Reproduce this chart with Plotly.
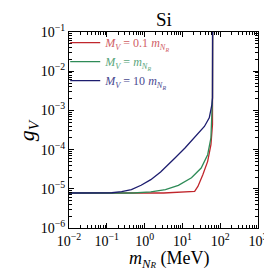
import plotly.graph_objects as go

# Data (m_NR in MeV, g_V)
m_red = [0.01, 3.16, 21.1, 25.7, 34.7, 46.6, 56.9, 62.5, 63.1]
g_red = [7.82e-6, 7.82e-6, 8.63e-6, 1.15e-5, 2.29e-5, 5.01e-5, 1.33e-4, 4.37e-4, 0.3]

m_green = [0.01, 0.5, 1.46, 3.56, 7.83, 17.4, 31.4, 46.6, 56.9, 60.3, 62.5, 63.1]
g_green = [7.82e-6, 7.82e-6, 8.32e-6, 9.55e-6, 1.23e-5, 1.91e-5, 3.39e-5, 7.41e-5, 2.0e-4,
           6.46e-4, 2.09e-3, 0.3]

m_blue = [0.01, 0.1, 0.136, 0.247, 0.447, 0.807, 1.46, 2.65, 4.79, 6.46, 11.7, 21.1, 38.2,
          51.4, 56.9, 60.3, 62.5, 63.1]
g_blue = [7.82e-6, 7.85e-6, 7.94e-6, 8.43e-6, 9.48e-6, 1.23e-5, 1.71e-5, 2.69e-5, 4.57e-5,
          6.17e-5, 1.10e-4, 2.0e-4, 3.89e-4, 6.46e-4, 9.55e-4, 1.41e-3, 2.09e-3, 0.3]

x_tickvals = [1e-2, 1e-1, 1, 10, 100, 1000]
x_ticktext = ["10<sup>−2</sup>", "10<sup>−1</sup>", "10<sup>0</sup>", "10<sup>1</sup>", "10<sup>2</sup>", "10<sup>3</sup>"]
y_tickvals = [1e-6, 1e-5, 1e-4, 1e-3, 1e-2, 1e-1]
y_ticktext = ["10<sup>−6</sup>", "10<sup>−5</sup>", "10<sup>−4</sup>", "10<sup>−3</sup>", "10<sup>−2</sup>", "10<sup>−1</sup>"]

c_red = "#c0262c"
c_green = "#2e8b57"
c_blue = "#1c1c6e"

def lab(col, mid):
    return (f'<span style="color:{col}"><i>M</i><sub><i>V</i></sub> = {mid}'
            f'<i>m</i><sub><i>N</i><sub><i>R</i></sub></sub></span>')

fig = go.Figure()
fig.add_trace(go.Scatter(x=m_red, y=g_red, mode="lines", line=dict(color=c_red, width=1.3),
                         name=lab("#d06065", "0.1 ")))
fig.add_trace(go.Scatter(x=m_green, y=g_green, mode="lines", line=dict(color=c_green, width=1.3),
                         name=lab("#5aa67c", "")))
fig.add_trace(go.Scatter(x=m_blue, y=g_blue, mode="lines", line=dict(color=c_blue, width=1.3),
                         name=lab("#4a4a90", "10 ")))

axis_common = dict(type="log", showgrid=False, zeroline=False, showline=True, linecolor="black",
                   linewidth=1.2, mirror="allticks", ticks="inside", ticklen=5, tickcolor="black",
                   tickwidth=1, tickfont=dict(family="Liberation Serif", size=14, color="black"),
                   minor=dict(ticks="inside", ticklen=3, tickcolor="black", dtick="D1", showgrid=False))

fig.update_xaxes(**axis_common, range=[-2, 3], tickvals=x_tickvals, ticktext=x_ticktext)
fig.update_yaxes(**axis_common, range=[-6, -1], tickvals=y_tickvals, ticktext=y_ticktext)

serif = "Liberation Serif"
fig.add_annotation(text='<i>m</i><sub><i>N</i><span style="font-size:9px"><i>R</i></span></sub> (MeV)',
                   xref="paper", yref="paper",
                   x=0.53, y=-0.163, xanchor="center", yanchor="middle", showarrow=False,
                   font=dict(family=serif, size=18, color="black"))
fig.add_annotation(text="<i>g</i><sub><i>V</i></sub>", xref="paper", yref="paper",
                   x=-0.215, y=0.5, xanchor="center", yanchor="middle", showarrow=False, textangle=-90,
                   font=dict(family=serif, size=22, color="black"))
fig.add_annotation(text="Si", xref="paper", yref="paper",
                   x=0.5, y=1.065, xanchor="center", yanchor="middle", showarrow=False,
                   font=dict(family=serif, size=19, color="black"))

fig.update_layout(
    width=272, height=270,
    margin=dict(l=61, r=17, t=24, b=50),
    plot_bgcolor="white", paper_bgcolor="white",
    legend=dict(x=-0.02, y=1.02, xanchor="left", yanchor="top", bgcolor="rgba(0,0,0,0)",
                font=dict(family=serif, size=12), itemwidth=30, tracegroupgap=0),
    showlegend=True,
)

fig.write_html("out.html")
